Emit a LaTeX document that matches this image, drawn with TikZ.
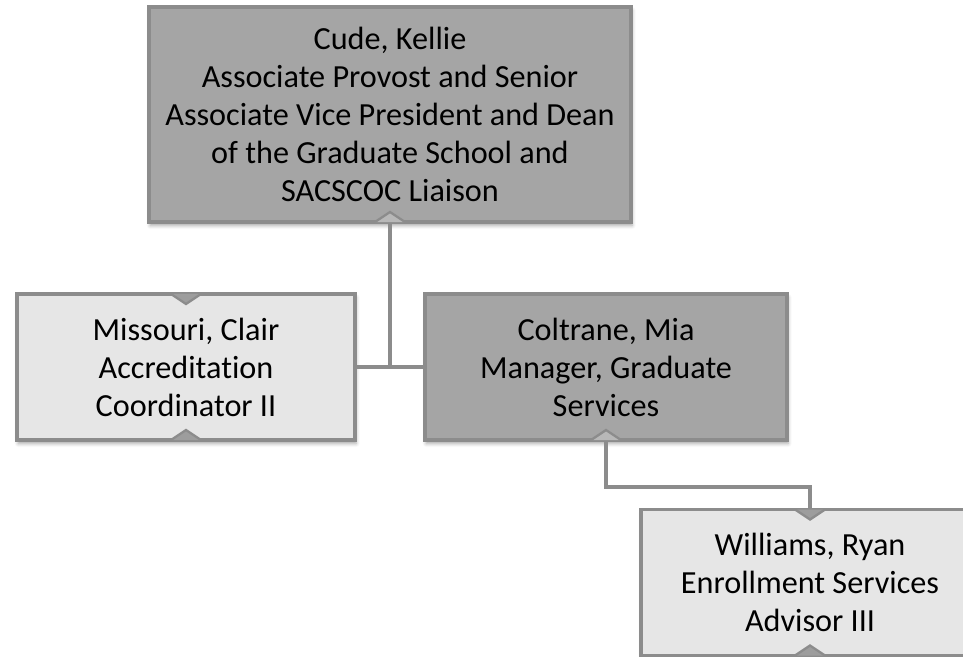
\documentclass[tikz,border=0pt]{standalone}
\usepackage{fontspec}
\setmainfont{Carlito}[Ligatures=NoCommon]
\usetikzlibrary{shadows.blur}

\definecolor{darkfill}{HTML}{A5A5A5}
\definecolor{lightfill}{HTML}{E6E6E6}
\definecolor{edgegray}{HTML}{8C8C8C}

\tikzstyle{person}=[rectangle,draw=edgegray,line width=2.6pt,outer sep=0pt,align=center,font=\fontsize{27.5}{32.4}\selectfont,blur shadow={shadow xshift=1pt,shadow yshift=-3pt,shadow blur radius=3pt,shadow opacity=35}]
\tikzstyle{boss}=[person,fill=darkfill]
\tikzstyle{staff}=[person,fill=lightfill]
\tikzstyle{link}=[draw=edgegray,line width=3.3pt]
\tikzstyle{upnotch}=[fill=black!28,draw=edgegray,line width=2pt,line join=miter]
\tikzstyle{downnotch}=[fill=edgegray!85,draw=edgegray,line width=2pt,line join=miter]

\begin{document}
\begin{tikzpicture}[x=0.03cm,y=-0.03cm]
	\useasboundingbox (0,0) rectangle (963,657);
	\clip (0,0) rectangle (963,657);

	\node (cude) at (390,114.5) [boss,minimum width=14.46cm,minimum height=6.45cm]
		{Cude, Kellie\\Associate Provost and Senior\\Associate Vice President and Dean\\of the Graduate School and\\SACSCOC Liaison};

		\node (missouri) at (186,367) [staff,minimum width=10.14cm,minimum height=4.38cm]
			{Missouri, Clair\\Accreditation\\Coordinator II};
		\node (coltrane) at (606,367) [boss,minimum width=10.86cm,minimum height=4.38cm]
			{Coltrane, Mia\\Manager, Graduate\\Services};

		\node (williams) at (810,582.5) [staff,minimum width=10.14cm,minimum height=4.38cm]
			{Williams, Ryan\\Enrollment Services\\Advisor III};

	\coordinate (turn) at (0,487);

	\draw [link] (cude.south) to (cude.south |- missouri.east);
	\draw [link] (missouri.east) to (coltrane.west);
	\draw [link] (coltrane.south) to (coltrane.south |- turn) -| (williams.north);

	\filldraw [upnotch] (cude.south) ++(-15,0) -- ++(15,-10) -- ++(15,10);
	\filldraw [downnotch] (missouri.north) ++(-15,0) -- ++(15,10) -- ++(15,-10);
	\filldraw [downnotch] (missouri.south) ++(-15,0) -- ++(15,-10) -- ++(15,10);
	\filldraw [upnotch] (coltrane.south) ++(-15,0) -- ++(15,-10) -- ++(15,10);
	\filldraw [downnotch] (williams.north) ++(-15,0) -- ++(15,10) -- ++(15,-10);
	\filldraw [downnotch] (williams.south) ++(-15,0) -- ++(15,-10) -- ++(15,10);


\end{tikzpicture}
\end{document}
